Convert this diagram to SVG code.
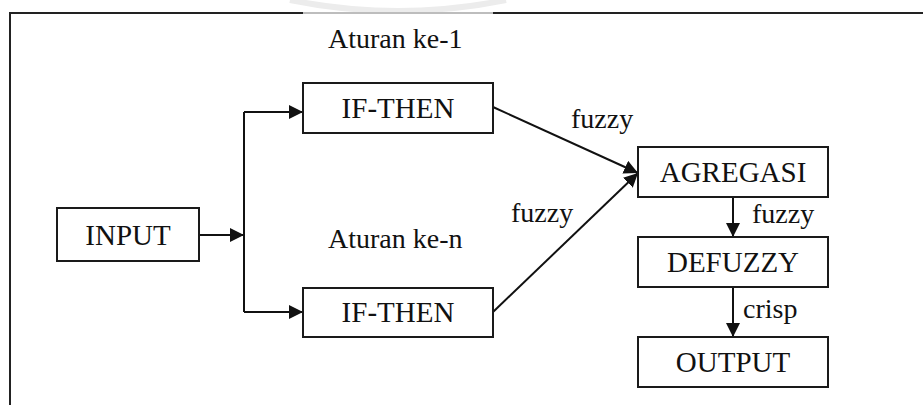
<svg xmlns="http://www.w3.org/2000/svg" width="923" height="405" viewBox="0 0 923 405">
<style>
.box{fill:#fff;stroke:#1a1a1a;stroke-width:2}
.t{font-family:"Liberation Serif","Times New Roman",serif;font-size:28px;fill:#111}
.b{font-size:29px;text-anchor:middle}
.ln{fill:none;stroke:#111;stroke-width:2}
.frame{fill:none;stroke:#222;stroke-width:2}
</style>
<defs>
<marker id="ah" viewBox="0 0 10 10" refX="10" refY="5" markerWidth="14" markerHeight="14" markerUnits="userSpaceOnUse" orient="auto">
<path d="M0,0 L10,5 L0,10 Z" fill="#111"/>
</marker>
</defs>
<rect width="923" height="405" fill="#fff"/>
<path d="M290,0 Q398,22 506,0" fill="none" stroke="#ececec" stroke-width="6"/>
<g id="frame">
<path class="frame" d="M10,405 V13 H303"/>
<path d="M303,13 H493" stroke="#bdbdbd" stroke-width="2"/>
<path class="frame" d="M493,13 H923"/>
</g>
<g id="connectors">
<path class="ln" d="M199,235 H244" marker-end="url(#ah)"/>
<path class="ln" d="M244,112 V312"/>
<path class="ln" d="M244,112 H303" marker-end="url(#ah)"/>
<path class="ln" d="M244,312 H303" marker-end="url(#ah)"/>
<path class="ln" d="M493,107 L638,173" marker-end="url(#ah)"/>
<path class="ln" d="M493,312 L638,173" marker-end="url(#ah)"/>
<path class="ln" d="M733,197 V237" marker-end="url(#ah)"/>
<path class="ln" d="M733,287 V337" marker-end="url(#ah)"/>
<text class="t" x="571" y="128">fuzzy</text>
<text class="t" x="511" y="222">fuzzy</text>
<text class="t" x="752" y="223">fuzzy</text>
<text class="t" x="743" y="318">crisp</text>
</g>
<g id="input"><rect class="box" x="57" y="208" width="142" height="53"/><text class="t b" x="128" y="245">INPUT</text></g>
<g id="rule1"><text class="t" x="328" y="48">Aturan ke-1</text><rect class="box" x="303" y="83" width="190" height="50"/><text class="t b" x="398" y="118">IF-THEN</text></g>
<g id="rulen"><text class="t" x="328" y="248">Aturan ke-n</text><rect class="box" x="303" y="288" width="190" height="49"/><text class="t b" x="398" y="322">IF-THEN</text></g>
<g id="agregasi"><rect class="box" x="638" y="147" width="190" height="50"/><text class="t b" x="733" y="182">AGREGASI</text></g>
<g id="defuzzy"><rect class="box" x="638" y="237" width="190" height="50"/><text class="t b" x="733" y="272">DEFUZZY</text></g>
<g id="output"><rect class="box" x="638" y="337" width="190" height="50"/><text class="t b" x="733" y="372">OUTPUT</text></g>
</svg>
